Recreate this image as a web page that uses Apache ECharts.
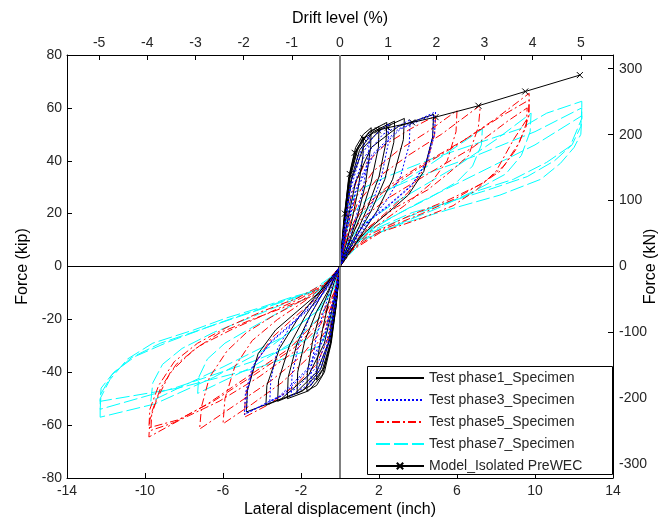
<!DOCTYPE html>
<html><head><meta charset="utf-8">
<script src="https://cdn.jsdelivr.net/npm/echarts@6/dist/echarts.min.js"></script>
<style>html,body{margin:0;padding:0;background:#fff}#c{width:661px;height:526px}</style>
</head><body><div id="c"></div>
<script>
// ---- data (inch, kip) ----
const xTicks = [-14, -10, -6, -2, 2, 6, 10, 14];
const driftTicks = [-5, -4, -3, -2, -1, 0, 1, 2, 3, 4, 5];
const kNTicks = [-300, -200, -100, 0, 100, 200, 300];
const inchPerDrift = 2.47;
const kNPerKip = 4.01;       // right axis ratio as drawn

const phase1 = [
[0,0],[0.2,18],[0.45,33],[0.8,43],[1.2,49],
[1.18,42],[0.9,28],[0.6,17],[0.3,8],[0,0],
[-0.2,-15],[-0.45,-28],[-0.8,-38],[-1.2,-43],
[-1.18,-36],[-0.9,-24],[-0.6,-14],[-0.3,-6],[0,0],
[0.2,17],[0.45,34],[0.8,45],[1.2,50],[1.6,52.5],
[1.57,45],[1.3,31],[0.9,19],[0.5,10],[0.15,3],[0,0],
[-0.2,-15],[-0.45,-29],[-0.8,-40],[-1.2,-45],[-1.7,-47],
[-1.67,-40],[-1.4,-28],[-1.0,-17],[-0.5,-8],[-0.15,-2],[0,0],
[0.2,16],[0.5,33],[0.9,44],[1.4,50],[2.0,53],
[1.97,45],[1.6,32],[1.1,20],[0.6,11],[0.2,4],[0,0],
[-0.2,-14],[-0.5,-29],[-0.9,-39],[-1.5,-45],[-2.2,-48],
[-2.17,-40],[-1.8,-28],[-1.2,-17],[-0.6,-9],[-0.2,-3],[0,0],
[0.2,16],[0.5,34],[0.9,45],[1.5,51],[2.4,54.5],
[2.36,47],[2.0,34],[1.4,22],[0.8,12],[0.25,4],[0,0],
[-0.2,-14],[-0.5,-30],[-0.9,-41],[-1.6,-47],[-2.7,-50],
[-2.66,-42],[-2.2,-29],[-1.5,-18],[-0.8,-9],[-0.25,-3],[0,0],
[0.2,15],[0.5,31],[1.0,44],[1.7,51],[2.8,55],
[2.76,47],[2.3,33],[1.6,21],[0.9,12],[0.3,4],[0,0],
[-0.2,-13],[-0.5,-27],[-1.0,-39],[-1.9,-47],[-3.2,-51],
[-3.15,-43],[-2.6,-30],[-1.8,-19],[-1.0,-10],[-0.3,-3],[0,0],
[0.25,16],[0.6,33],[1.2,45],[2.1,52],[3.3,56],
[3.25,48],[2.7,33],[1.9,21],[1.0,11],[0.3,3],[0,0],
[-0.25,-14],[-0.6,-29],[-1.2,-40],[-2.3,-48],[-3.8,-52.5],
[-3.75,-45],[-3.1,-31],[-2.1,-19],[-1.1,-10],[-0.3,-3],[0,0],
[0.3,14],[0.8,32],[1.6,45],[3.0,53],[4.8,57.5],
[4.75,49],[4.3,36],[3.5,27],[2.4,20],[1.3,13],[0.4,5],[0,0],
[-0.3,-13],[-0.8,-29],[-1.6,-41],[-3.0,-50],[-4.8,-55],
[-4.75,-47],[-4.2,-33],[-3.3,-24],[-2.2,-17],[-1.1,-10],[-0.3,-3],[0,0]
];

const phase3 = [
[0,0],[0.2,14],[0.5,30],[0.9,41],[1.5,50],
[1.47,43],[1.2,30],[0.8,18],[0.4,9],[0,0],
[-0.2,-13],[-0.5,-27],[-0.9,-37],[-1.5,-45],
[-1.47,-38],[-1.2,-26],[-0.8,-16],[-0.4,-7],[0,0],
[0.2,13],[0.5,28],[1.0,41],[1.7,49],[2.5,54],
[2.46,46],[2.1,33],[1.5,21],[0.8,11],[0.3,4],[0,0],
[-0.2,-12],[-0.5,-26],[-1.0,-37],[-1.7,-45],[-2.5,-49],
[-2.46,-41],[-2.1,-29],[-1.5,-18],[-0.8,-9],[-0.3,-3],[0,0],
[0.25,13],[0.6,28],[1.2,41],[2.2,50],[3.6,55.5],
[3.55,46],[3.1,34],[2.4,25],[1.6,18],[0.8,10],[0.2,3],[0,0],
[-0.25,-12],[-0.6,-26],[-1.2,-38],[-2.2,-46],[-3.6,-51],
[-3.55,-43],[-3.2,-31],[-2.5,-22],[-1.6,-15],[-0.8,-8],[-0.2,-2],[0,0],
[0.3,13],[0.8,29],[1.6,42],[3.0,52],[4.9,58.5],
[4.85,50],[4.5,40],[3.7,31],[2.6,24],[1.4,17],[0.5,9],[0,0],
[-0.3,-12],[-0.8,-27],[-1.6,-39],[-3.0,-49],[-4.9,-56],
[-4.85,-48],[-4.5,-38],[-3.6,-29],[-2.5,-22],[-1.4,-15],[-0.5,-7],[0,0],
[0.3,12],[0.8,28],[1.7,42],[3.1,52],[4.8,57.5],
[4.75,49],[4.4,39],[3.6,30],[2.5,23],[1.3,16],[0.45,8],[0,0],
[-0.3,-11],[-0.8,-26],[-1.7,-39],[-3.1,-49],[-4.8,-55.5],
[-4.75,-47],[-4.4,-37],[-3.5,-28],[-2.4,-21],[-1.3,-14],[-0.45,-6],[0,0]
];

const phase5 = [
[0,0],[0.25,14],[0.6,28],[1.2,38],[2.3,46],[3.6,52],[4.9,57],
[4.85,50],[4.4,38],[3.5,28],[2.3,20],[1.2,13],[0.4,6],[0,0],
[-0.25,-13],[-0.6,-27],[-1.2,-37],[-2.3,-45],[-3.6,-52],[-4.9,-57],
[-4.85,-49],[-4.4,-37],[-3.5,-27],[-2.3,-19],[-1.2,-12],[-0.4,-5],[0,0],
[0.3,13],[0.8,26],[1.7,36],[3.0,44],[4.5,51],[6.0,59],
[5.95,51],[5.5,40],[4.6,31],[3.3,23],[1.8,15],[0.5,6],[0,0],
[-0.3,-12],[-0.8,-25],[-1.7,-35],[-3.0,-44],[-4.5,-52],[-6.0,-59.5],
[-5.9,-50],[-5.4,-38],[-4.5,-28],[-3.2,-20],[-1.8,-13],[-0.6,-6],[0,0],
[0.3,12],[0.9,24],[2.0,34],[3.5,42],[5.2,50],[7.2,61],
[7.1,53],[6.6,42],[5.6,35.5],[4.5,29],[2.9,22.5],[1.5,15],[0.4,6],[0,0],
[-0.3,-12],[-0.9,-24],[-2.0,-34],[-3.5,-43],[-5.3,-52],[-7.2,-61.5],
[-7.1,-53],[-6.7,-42],[-5.8,-32],[-4.8,-25],[-3.5,-19],[-2.0,-13],[-0.8,-7],[0,0],
[0.3,10],[1.0,20],[2.2,28],[4.0,37],[6.0,46],[8.0,56],[9.7,65.5],
[9.7,57],[8.9,48],[8.0,36],[7.0,29],[5.8,23],[4.1,18],[2.1,13],[0.6,6],[0,0],
[-0.3,-11],[-1.0,-22],[-2.3,-32],[-4.2,-42],[-6.2,-51],[-8.2,-58],[-9.8,-64.5],
[-9.75,-58],[-9.4,-50.4],[-8.7,-40],[-7.5,-31.5],[-6.15,-25],[-4.5,-20],[-2.7,-15],[-1.0,-10],[-0.3,-4],[0,0],
[0.3,11],[1.0,21],[2.4,30],[4.3,39],[6.4,48],[8.3,57],[9.7,63],
[9.65,56],[9.2,47],[8.4,38],[7.4,32],[6.0,26],[4.2,20],[2.2,14],[0.7,7],[0,0],
[-0.3,-10],[-1.0,-21],[-2.4,-31],[-4.4,-41],[-6.5,-51],[-8.3,-58],[-9.8,-61],
[-9.75,-54],[-9.3,-45],[-8.5,-36],[-7.3,-29],[-5.8,-23],[-4.0,-17],[-2.2,-12],[-0.7,-6],[0,0],
[0.3,9],[1.1,18],[2.5,26],[4.5,35],[6.8,45],[8.6,55],[9.6,60],
[9.55,53],[9.0,44],[8.2,36],[7.2,31],[5.5,25],[3.5,19],[1.5,12],[0.4,5],[0,0],
[-0.3,-10],[-1.1,-20],[-2.6,-31],[-4.6,-41],[-6.8,-52],[-8.5,-59],[-9.7,-62],
[-9.65,-55],[-9.2,-46],[-8.4,-37],[-7.2,-30],[-5.6,-24],[-3.8,-18],[-2.0,-12],[-0.6,-6],[0,0]
];

const phase7 = [
[0,0],[0.3,10],[1.0,19],[2.5,29],[4.5,38],[7.3,52],
[7.25,46],[6.8,38],[6.0,32],[4.6,26],[3.0,20],[1.4,13],[0.3,4],[0,0],
[-0.3,-10],[-1.0,-19],[-2.5,-29],[-4.5,-38],[-7.3,-48],
[-7.25,-42],[-6.8,-35],[-5.9,-29],[-4.5,-23],[-2.8,-16],[-1.2,-10],[-0.3,-3],[0,0],
[0.3,8],[1,15],[3,25],[6,38],[8,48],[9.8,58],
[9.75,51],[9.3,42],[8.5,35],[7,29],[5,22],[3,16],[1.2,10],[0.3,3],[0,0],
[-0.3,-8],[-1,-16],[-3,-27],[-6,-38],[-8,-45],[-9.7,-51],
[-9.6,-44],[-9.1,-37],[-8.1,-31],[-6.5,-25],[-4.5,-19],[-2.5,-13],[-1,-8],[-0.3,-3],[0,0],
[0.2,12],[0.5,24],[1,29],[2.4,34],[4.8,41],[7.2,47],[9.2,52],[10.6,58],[12.4,62.5],
[12.4,56],[11.8,45.5],[10.6,39.4],[8.9,33],[7.2,29],[5.5,24],[3.7,20.4],[2.05,15],[0.67,10],[0.2,3],[0,0],
[-0.3,-8],[-1.2,-17],[-3.5,-30],[-6.5,-42],[-9.5,-52],[-12.3,-57],
[-12.3,-50],[-11.8,-42.8],[-10.9,-35],[-9.6,-29],[-7.5,-24],[-5.8,-19.4],[-4.1,-15.6],[-2.4,-11.4],[-1,-8.7],[-0.3,-3],[0,0],
[0.2,10],[0.6,20],[1.5,26],[4,34],[7,42],[10,51],[12.4,60],
[12.35,53],[11.9,46],[11,40],[9.6,34],[7.6,29],[5.4,24],[3.2,18],[1.3,12],[0.3,4],[0,0],
[-0.2,-9],[-0.6,-20],[-1.5,-27],[-4.5,-36],[-8.5,-46],[-12.3,-54],
[-12.25,-48],[-11.7,-41],[-10.7,-34.5],[-9.2,-29],[-7.2,-24],[-5.3,-19],[-3.3,-14],[-1.5,-9.5],[-0.3,-3],[0,0],
[0.3,6],[1.5,14],[4,24],[7,35],[10,46],[12.4,57],
[12.35,50],[12,45],[11.3,39],[10.3,33],[8.2,27],[5.6,21.6],[3.1,16],[1,10],[0.25,3],[0,0],
[-0.2,-10],[-0.5,-22],[-1,-30],[-4.1,-38],[-8.3,-46],[-12.3,-51],
[-12.25,-46],[-11.6,-40],[-10.5,-34],[-8.8,-28.5],[-6.8,-23],[-4.8,-18],[-2.8,-13],[-1.2,-9],[-0.3,-3],[0,0]
];

const model = [
[0.25,20],[0.5,35],[0.75,43],[1.2,48.5],[1.95,51.5],[2.45,52.5],[3.7,54.5],[4.9,56.5],[7.1,60.8],[9.5,66.2],[12.3,72.4]
];

const names = ['Test phase1_Specimen','Test phase3_Specimen','Test phase5_Specimen','Test phase7_Specimen','Model_Isolated PreWEC'];

// ---- chart ----
const FF = "'Liberation Sans', Arial, sans-serif";
const TXT = '#262626';
const lbl = {color: TXT, fontSize: 14, fontFamily: FF};
const nm = {color: '#000', fontSize: 16, fontFamily: FF};
const axLine = {show: true, onZero: false, lineStyle: {color: '#000', width: 1}};

const chart = echarts.init(document.getElementById('c'), null, {renderer: 'canvas'});
chart.setOption({
  animation: false,
  backgroundColor: '#fff',
  grid: {left: 67, right: 48, top: 55, bottom: 48, containLabel: false, outerBoundsMode: 'none'},
  xAxis: [
    {type: 'value', position: 'bottom', min: -14, max: 14,
     axisLine: axLine,
     axisTick: {show: true, inside: true, length: 5, customValues: xTicks, lineStyle: {color: '#000'}},
     axisLabel: Object.assign({customValues: xTicks, margin: 6}, lbl),
     splitLine: {show: false},
     name: 'Lateral displacement (inch)', nameLocation: 'middle', nameGap: 24, nameMoveOverlap: false, nameTextStyle: nm},
    {type: 'value', position: 'top', min: -14 / inchPerDrift, max: 14 / inchPerDrift,
     axisLine: axLine,
     axisTick: {show: true, inside: true, length: 5, customValues: driftTicks, lineStyle: {color: '#000'}},
     axisLabel: Object.assign({customValues: driftTicks, margin: 5}, lbl),
     splitLine: {show: false},
     name: 'Drift level (%)', nameLocation: 'middle', nameGap: 28, nameMoveOverlap: false, nameTextStyle: nm}
  ],
  yAxis: [
    {type: 'value', position: 'left', min: -80, max: 80, interval: 20,
     axisLine: axLine,
     axisTick: {show: true, inside: true, length: 5, lineStyle: {color: '#000'}},
     axisLabel: Object.assign({margin: 5}, lbl),
     splitLine: {show: false},
     name: 'Force (kip)', nameLocation: 'middle', nameGap: 36, nameMoveOverlap: false, nameTextStyle: nm},
    {type: 'value', position: 'right', min: -80 * kNPerKip, max: 80 * kNPerKip,
     axisLine: axLine,
     axisTick: {show: true, inside: true, length: 5, customValues: kNTicks, lineStyle: {color: '#000'}},
     axisLabel: Object.assign({customValues: kNTicks, margin: 6}, lbl),
     splitLine: {show: false},
     name: 'Force (kN)', nameLocation: 'middle', nameGap: 30, nameMoveOverlap: false, nameTextStyle: nm}
  ],
  legend: {
    orient: 'vertical', left: 367, top: 366, padding: [5, 8, 5, 8],
    itemGap: 8, itemWidth: 48, itemHeight: 8,
    itemStyle: {opacity: 0},
    textStyle: {color: TXT, fontSize: 14, fontFamily: FF},
    data: [names[0], names[1], names[2], names[3], {name: names[4], itemStyle: {opacity: 1}}],
    selectedMode: false, z: 5
  },
  graphic: [{type: 'rect', z: 3, shape: {x: 367.5, y: 366.5, width: 245, height: 108},
             style: {fill: '#fff', stroke: '#000', lineWidth: 1}}],
  series: [
    {name: 'zero', type: 'line', data: [], silent: true, z: 1,
     markLine: {silent: true, symbol: ['none', 'none'], label: {show: false},
       data: [{xAxis: 0, lineStyle: {color: '#808080', width: 2, type: 'solid'}},
              {yAxis: 0, lineStyle: {color: '#000', width: 1, type: 'solid'}}]}},
    {name: names[3], type: 'line', data: phase7, symbol: 'none', showSymbol: false, z: 2,
     lineStyle: {color: '#00ffff', width: 1, type: [14, 4]}, itemStyle: {color: '#00ffff'}},
    {name: names[2], type: 'line', data: phase5, symbol: 'none', showSymbol: false, z: 2,
     lineStyle: {color: '#ff0000', width: 1, type: [8, 3, 2, 3]}, itemStyle: {color: '#ff0000'}},
    {name: names[0], type: 'line', data: phase1, symbol: 'none', showSymbol: false, z: 2,
     lineStyle: {color: '#000', width: 1, type: 'solid'}, itemStyle: {color: '#000'}},
    {name: names[1], type: 'line', data: phase3, symbol: 'none', showSymbol: false, z: 2,
     lineStyle: {color: '#0000ff', width: 1, type: [2, 2]}, itemStyle: {color: '#0000ff'}},
    {name: names[4], type: 'line', data: model, z: 2,
     symbol: 'path://M0,0L10,10M10,0L0,10', symbolSize: 6, showSymbol: true,
     lineStyle: {color: '#000', width: 1}, itemStyle: {color: 'none', borderColor: '#000', borderWidth: 1}}
  ]
});
</script></body></html>
